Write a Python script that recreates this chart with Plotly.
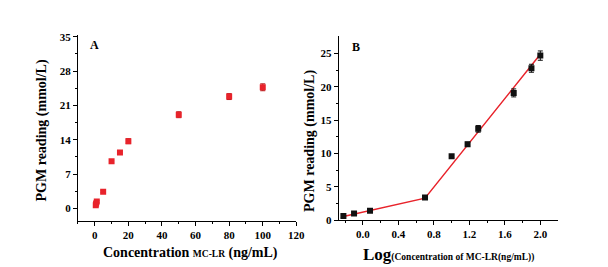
import plotly.graph_objects as go

# Data
conc = [0.6, 0.8, 1.2, 5, 10, 15, 20, 50, 80, 100]
log_conc = [-0.22, -0.1, 0.08, 0.7, 1.0, 1.18, 1.3, 1.7, 1.9, 2.0]
pgm = [0.6, 1.0, 1.4, 3.4, 9.6, 11.4, 13.7, 19.1, 22.8, 24.7]
pgm_err = [0.2, 0.2, 0.2, 0.2, 0.2, 0.3, 0.5, 0.6, 0.6, 0.7]
fit_x = [-0.22, 0.7, 2.0]
fit_y = [0.55, 3.3, 24.9]

FONT = "Liberation Serif"
RED = "#e8232b"

fig = go.Figure()
fig.add_trace(go.Scatter(
    x=conc, y=pgm, mode="markers",
    marker=dict(symbol="square", size=6, color=RED),
    error_y=dict(type="data", array=pgm_err, color="#b01010", thickness=1, width=2.5),
    xaxis="x", yaxis="y", showlegend=False))
fig.add_trace(go.Scatter(
    x=fit_x, y=fit_y, mode="lines", line=dict(color=RED, width=1.5),
    xaxis="x2", yaxis="y2", showlegend=False))
fig.add_trace(go.Scatter(
    x=log_conc, y=pgm, mode="markers",
    marker=dict(symbol="square", size=6, color="#111111"),
    error_y=dict(type="data", array=pgm_err, color="#111111", thickness=1, width=2.5),
    xaxis="x2", yaxis="y2", showlegend=False))

tickfont = dict(family=FONT, size=11, color="black", weight="bold")
common = dict(showgrid=False, zeroline=False, showline=True, linecolor="black",
              linewidth=1, ticks="outside", ticklen=4, tickwidth=1, tickcolor="black",
              tickfont=tickfont)

fig.update_layout(
    width=608, height=267,
    margin=dict(l=0, r=0, t=0, b=0),
    paper_bgcolor="white", plot_bgcolor="white",
    xaxis=dict(domain=[0.1168, 0.4814], range=[-10, 120], anchor="y",
               tickvals=[0, 20, 40, 60, 80, 100, 120],
               minor=dict(tickvals=[-10, 10, 30, 50, 70, 90, 110], ticks="outside",
                          ticklen=2, tickcolor="black"),
               **common),
    yaxis=dict(domain=[0.1873, 0.9127], range=[-2.6, 35.3], anchor="x",
               tickvals=[0, 7, 14, 21, 28, 35],
               minor=dict(tickvals=[3.5, 10.5, 17.5, 24.5, 31.5], ticks="outside",
                          ticklen=2, tickcolor="black"),
               **common),
    xaxis2=dict(domain=[0.5521, 0.9183], range=[-0.273, 2.2], anchor="y2",
                tickvals=[0.0, 0.4, 0.8, 1.2, 1.6, 2.0], ticktext=["0.0", "0.4", "0.8", "1.2", "1.6", "2.0"],
                minor=dict(tickvals=[-0.2, 0.2, 0.6, 1.0, 1.4, 1.8], ticks="outside",
                           ticklen=2, tickcolor="black"),
                **common),
    yaxis2=dict(domain=[0.191, 0.909], range=[0, 27.6], anchor="x2",
                tickvals=[0, 5, 10, 15, 20, 25],
                minor=dict(tickvals=[2.5, 7.5, 12.5, 17.5, 22.5], ticks="outside",
                           ticklen=2, tickcolor="black"),
                **common),
)

ann = [
    dict(text="<b>A</b>", x=88, y=33),
    dict(text="<b>B</b>", x=353, y=35),
    dict(text="<b>PGM reading (mmol/L)</b>", x=34, y=122, textangle=-90, size=14),
    dict(text="<b>PGM reading (mmol/L)</b>", x=306, y=133, textangle=-90, size=14),
    dict(text="<b>Concentration <span style='font-size:9.5px'>MC-LR</span> (ng/mL)</b>", x=185, y=250, size=14),
    dict(text="<b>Log<span style='font-size:9.5px'>(Concentration of MC-LR(ng/mL))</span></b>", x=447, y=252, size=17),
]
for a in ann:
    fig.add_annotation(
        text=a["text"], x=a["x"] / 608, y=1 - a["y"] / 267, xref="paper", yref="paper",
        xanchor="center", yanchor="middle", showarrow=False, textangle=a.get("textangle", 0),
        font=dict(family=FONT, size=a.get("size", 12), color="black"))

fig.write_html("out.html")
